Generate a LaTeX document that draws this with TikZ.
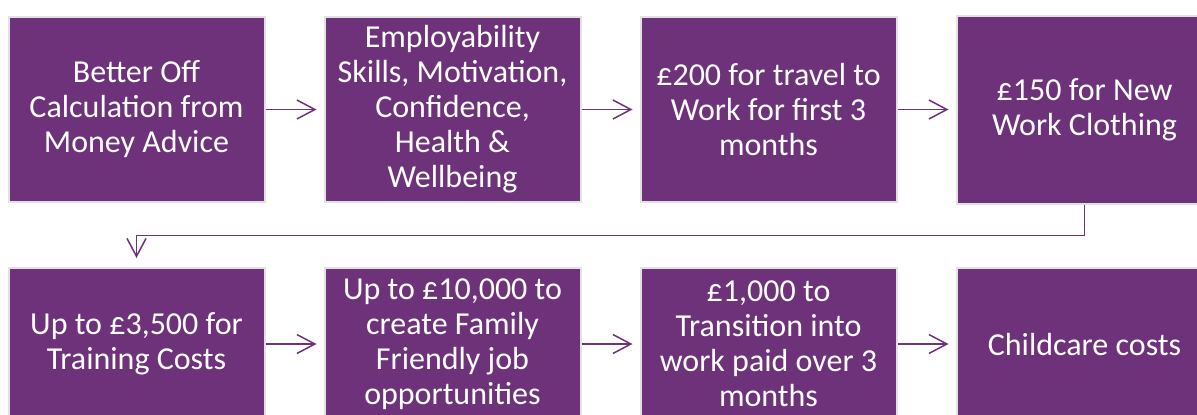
\documentclass[tikz,border=0pt]{standalone}
\usepackage{fontspec}
\setmainfont{Carlito}
\usepackage{tikz}
\usetikzlibrary{arrows.meta,positioning}
\definecolor{plum}{RGB}{109,50,122}
\definecolor{rim}{RGB}{226,226,226}
\tikzset{
  stepbox/.style={rectangle, draw=rim, line width=1pt, fill=plum, text=white,
    minimum width=128pt, minimum height=92.5pt, inner sep=0pt, align=center,
    font=\fontsize{16}{17.5}\selectfont},
  lowbox/.style={stepbox, minimum height=76pt},
  flow/.style={draw=plum, line width=0.75pt,
    -{Straight Barb[length=9pt, width=9.5pt, line width=0.75pt]}, shorten >=3.5pt},
}

\begin{document}
\begin{tikzpicture}[x=0.5pt, y=-0.5pt]
  \useasboundingbox (0,0) rectangle (1197,414);
  \clip (0,0) rectangle (1197,414);

  %% ==================
  %% first row
  %% ==================
  \node[stepbox] (better) at (136.5,109.5) {Better Off\\Calculation from\\Money Advice};
  \node[stepbox, right=29pt of better] (skills) {Employability\\Skills, Motivation,\\Confidence,\\Health \&\\Wellbeing};
  \node[stepbox, right=29pt of skills] (travel) {£200 for travel to\\Work for first 3\\months};
  \node[stepbox, right=29pt of travel, minimum height=94pt] (clothing) {£150 for New\\Work Clothing};

  %% ==================
  %% second row
  %% ==================
  \node[lowbox, below=32pt of better] (training) {Up to £3,500 for\\Training Costs};
  \node[lowbox, right=29pt of training] (family) {Up to £10,000 to\\create Family\\Friendly job\\opportunities};
  \node[lowbox, right=29pt of family] (transition) {£1,000 to\\Transition into\\work paid over 3\\months};
  \node[lowbox, right=29pt of transition] (childcare) {Childcare costs};

  % arrows
  \draw[flow] (better) -- (skills);
  \draw[flow] (skills) -- (travel);
  \draw[flow] (travel) -- (clothing);
  \draw[flow, shorten >=4.5pt] (clothing.south) -- ++(0,31) -| (training.north);
  \draw[flow] (training) -- (family);
  \draw[flow] (family) -- (transition);
  \draw[flow] (transition) -- (childcare);
\end{tikzpicture}
\end{document}
